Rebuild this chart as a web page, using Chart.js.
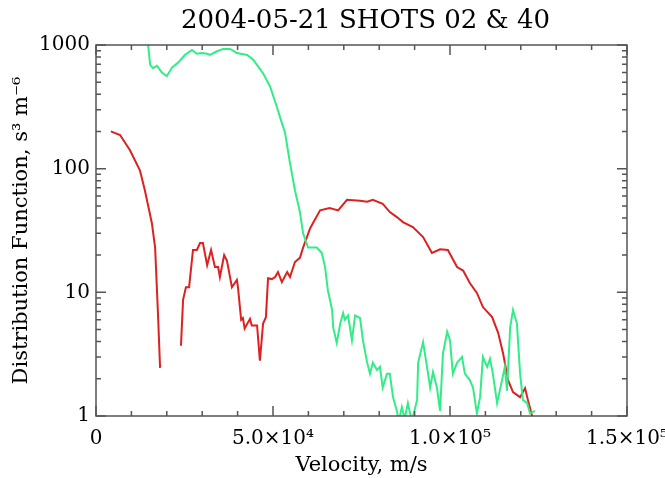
<!DOCTYPE html>
<html>
<head>
    <title>2004-05-21 SHOTS 02 & 40</title>
    <meta charset="UTF-8">
    <style>
        body {
            margin: 0;
            background: #fff;
        }
        #wrap {
            width: 665px;
            height: 478px;
        }
    </style>
    <script src="https://cdn.jsdelivr.net/npm/chart.js"></script>
</head>
<body>
    <div id="wrap"><canvas id="fChart"></canvas></div>

    <script>
        // velocities in units of 1000 m/s, distribution function in s^3 m^-6
        const redV = [4.2, 6.8, 9.6, 12.4, 13.8, 15.8, 16.7, 17.5, 18.1, 21,
            24, 24.6, 25.4, 26.3, 27.4, 28.5, 29.4, 30.2, 31.4, 32.5, 33.6, 34.5, 35, 36.2, 37,
            38.4, 39.8, 40.1, 41, 41.5, 42, 43.5, 44, 45.5, 46.3, 47.2, 48, 48.6, 49.7, 50.6,
            51.4, 52.5, 54, 54.8, 56.2, 57.6, 58.5, 60.5, 61.9, 63.3, 66, 68.4, 70.9, 74.6,
            76.6, 78.2, 81, 83, 85, 86.7, 89.5, 92.4, 94.9, 97.2, 99.4, 102, 103.7, 105.6,
            107.6, 109.3, 111.9, 113.6, 115, 116.4, 117.8, 119.8, 121.2, 122, 123.4];
        const redF = [200, 187, 141, 97, 67, 36, 23, 6.8, 2.45, null,
            3.7, 8.7, 11, 11, 22, 22, 25, 25, 16.6, 22, 16, 16, 13.3, 20, 18,
            11, 12.6, 11, 6, 6.2, 5.1, 6.1, 5.4, 5.4, 2.8, 5.6, 6.3, 13, 12.8, 13.3,
            14.6, 12.1, 14.6, 13.3, 17.6, 19, 23, 33, 39, 46, 48, 46, 56, 55,
            54, 56, 52, 44.6, 40.6, 37, 33.7, 28, 20.8, 22.3, 22, 16, 15, 11.9,
            9.9, 7.6, 6.3, 4.7, 3.2, 1.95, 1.56, 1.42, 1.68, 1.35, 0.95];

        const greenV = [14.2, 15.3, 16.1, 17.2, 18.6, 20, 21.5, 23.2, 25.1, 27.1,
            28.5, 29.9, 31.4, 32.2, 34.2, 35.9, 37.9, 39.8, 42.7, 44.4,
            47.2, 49.2, 51.1, 52, 53.4, 54.8, 56.2, 57.6, 58.5, 59.9,
            62.4, 63.8, 64.7, 65.5, 66.7, 67, 68, 69, 69.8, 70.3,
            71.2, 72.3, 73.2, 74.6, 75.4, 76.6, 77.4, 78.2, 79.4, 80.2,
            81, 82.2, 83, 83.9, 85, 85.5, 86.4, 87.2, 88.1, 89.2,
            90.7, 91, 92.4, 93.5, 94.4, 95.2, 96.3, 97.2, 98, 99.2,
            100, 100.8, 102, 103.4, 104.2, 105.6, 106.5, 107.6, 108.5, 109.3,
            110.5, 111.3, 112.1, 113.3, 114.7, 115.5, 116.1, 117, 117.8, 118.9,
            119.8, 120.6, 121.8, 122.6, 124];
        const greenF = [1400, 690, 650, 680, 600, 560, 660, 720, 830, 910,
            850, 860, 850, 830, 890, 930, 930, 860, 830, 760,
            590, 460, 315, 260, 195, 111, 67, 44.6, 30, 23,
            23, 20.8, 16, 10.4, 7.2, 5.2, 3.9, 5.6, 6.8, 6,
            6.5, 4.1, 6.5, 6.2, 4.1, 2.7, 2.2, 2.7, 2.35, 2.5,
            1.7, 2.2, 2.2, 1.42, 1.1, 0.9, 1.18, 0.95, 1.27, 0.9,
            1.35, 2.7, 3.96, 2.5, 1.7, 2.27, 1.7, 1.1, 3.2, 4.8,
            4.1, 2.2, 2.7, 3.0, 2.2, 1.95, 1.7, 1.05, 1.42, 3.0,
            2.5, 2.9, 2.2, 1.27, 1.95, 2.5, 1.6, 5.2, 7.2, 5.6,
            2.2, 1.35, 1.27, 1.05, 1.1];

        const xTickLabels = ['0', '5.0×10⁴', '1.0×10⁵', '1.5×10⁵'];
        const yTickLabels = ['1', '10', '100', '1000'];

        const toPoints = (vs, fs) => vs.map((v, i) => ({ x: v * 1000, y: fs[i] }));

        const serif = 'DejaVu Serif';

        // title + box with inward ticks on all four sides, IDL style
        const frameTicks = {
            id: 'frameTicks',
            afterDraw(chart) {
                const { ctx, chartArea: a, scales: { x, y } } = chart;
                ctx.save();
                ctx.strokeStyle = '#555';
                ctx.lineWidth = 1.5;
                ctx.strokeRect(a.left, a.top, a.right - a.left, a.bottom - a.top);
                ctx.beginPath();
                for (let v = 0; v <= 150000; v += 10000) {
                    const px = x.getPixelForValue(v);
                    const len = v % 50000 === 0 ? 10 : 5;
                    ctx.moveTo(px, a.bottom); ctx.lineTo(px, a.bottom - len);
                    ctx.moveTo(px, a.top); ctx.lineTo(px, a.top + len);
                }
                for (let d = 1; d <= 1000; d *= 10) {
                    for (let m = 1; m <= (d === 1000 ? 1 : 9); m++) {
                        const py = y.getPixelForValue(d * m);
                        const len = m === 1 ? 10 : 5;
                        ctx.moveTo(a.left, py); ctx.lineTo(a.left + len, py);
                        ctx.moveTo(a.right, py); ctx.lineTo(a.right - len, py);
                    }
                }
                ctx.stroke();

                ctx.fillStyle = '#000';
                ctx.font = '26px "' + serif + '"';
                ctx.textAlign = 'center';
                ctx.textBaseline = 'middle';
                ctx.fillText('2004-05-21 SHOTS 02 & 40', (a.left + a.right) / 2 + 4, 21);
                ctx.restore();
            }
        };

        const ctx = document.getElementById('fChart').getContext('2d');
        const chart = new Chart(ctx, {
            type: 'line',
            data: {
                datasets: [{
                    label: 'shot 02',
                    data: toPoints(greenV, greenF),
                    borderColor: '#33ec88',
                    borderWidth: 2,
                    pointRadius: 0,
                    tension: 0,
                }, {
                    label: 'shot 40',
                    data: toPoints(redV, redF),
                    borderColor: '#dd2020',
                    borderWidth: 2,
                    pointRadius: 0,
                    tension: 0,
                    spanGaps: false,
                }],
            },
            options: {
                responsive: true,
                maintainAspectRatio: false,
                animation: false,
                layout: { padding: { top: 45, right: 38, left: 0, bottom: 0 } },
                plugins: {
                    legend: { display: false },
                    tooltip: { enabled: false },
                },
                scales: {
                    x: {
                        type: 'linear',
                        min: 0,
                        max: 150000,
                        grid: { display: false, drawTicks: false },
                        border: { display: false },
                        afterBuildTicks: s => { s.ticks = [0, 50000, 100000, 150000].map(v => ({ value: v })); },
                        afterFit: s => { s.height = 62; s.paddingLeft = 0; s.paddingRight = 0; },
                        ticks: {
                            color: '#000',
                            padding: 11,
                            maxRotation: 0,
                            font: { family: serif, size: 20 },
                            callback: (v, i) => xTickLabels[i],
                        },
                        title: {
                            display: true,
                            text: 'Velocity, m/s',
                            color: '#000',
                            font: { family: serif, size: 21 },
                            padding: { top: 0, bottom: 0 },
                        },
                    },
                    y: {
                        type: 'logarithmic',
                        min: 1,
                        max: 1000,
                        grid: { display: false, drawTicks: false },
                        border: { display: false },
                        afterBuildTicks: s => { s.ticks = [1, 10, 100, 1000].map(v => ({ value: v })); },
                        afterFit: s => { s.width = 96; s.paddingTop = 0; s.paddingBottom = 0; },
                        ticks: {
                            color: '#000',
                            padding: 6,
                            font: { family: serif, size: 20 },
                            callback: (v, i) => yTickLabels[i],
                        },
                        title: {
                            display: true,
                            text: 'Distribution Function, s³ m⁻⁶',
                            color: '#000',
                            font: { family: serif, size: 21 },
                            padding: { top: 9, bottom: 0 },
                        },
                    },
                },
            },
            plugins: [frameTicks],
        });
    </script>
</body>
</html>
